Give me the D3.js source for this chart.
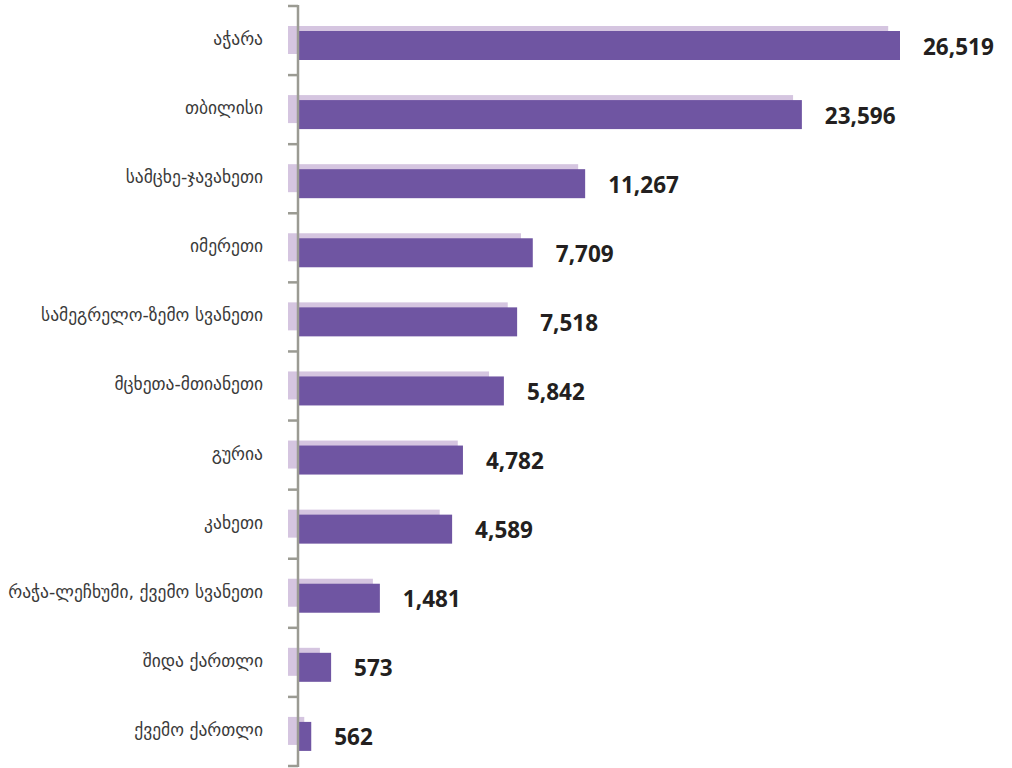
<!DOCTYPE html>
<html><head><meta charset="utf-8">
<script src="https://cdn.jsdelivr.net/npm/d3@7/dist/d3.min.js"></script>
<style>body{margin:0;background:#fff}svg{display:block}</style>
</head><body>
<svg id="chart" width="1012" height="768"></svg>
<script>
const categories = ["აჭარა","თბილისი","სამცხე-ჯავახეთი","იმერეთი","სამეგრელო-ზემო სვანეთი","მცხეთა-მთიანეთი","გურია","კახეთი","რაჭა-ლეჩხუმი, ქვემო სვანეთი","შიდა ქართლი","ქვემო ქართლი"];
const valueLabels = [26519,23596,11267,7709,7518,5842,4782,4589,1481,573,562];
// bar lengths (relative, % of longest bar)
const barValues = [100,83.7,47.7,39.0,36.4,34.2,27.4,25.6,13.6,5.5,2.2];
const shadowValues = [99.7,83.9,48.2,38.7,36.5,33.4,28.2,25.2,14.1,5.3,2.7];

const svg = d3.select("#chart");
const x0 = 298;
const x = d3.scaleLinear().domain([0,100]).range([0,602]);
const y = d3.scaleBand().domain(categories).range([6,766]).paddingInner(0).paddingOuter(0);
const step = y.step();

// shadow bars
svg.append("g").selectAll("rect").data(categories).join("rect")
  .attr("x", x0-10).attr("y", d=>y(d)+20)
  .attr("width", (d,i)=>x(shadowValues[i])).attr("height", 28)
  .attr("fill", "#d5c5e0");

// main bars
svg.append("g").selectAll("rect").data(categories).join("rect")
  .attr("x", x0).attr("y", d=>y(d)+25)
  .attr("width", (d,i)=>x(barValues[i])).attr("height", 29)
  .attr("fill", "#6f55a2");

// axis
const axisColor = "#9b9b93";
const boundaries = d3.range(categories.length+1).map(i=>6+i*step);
const ag = svg.append("g");
ag.append("line").attr("x1",x0).attr("x2",x0).attr("y1",5).attr("y2",767)
  .attr("stroke",axisColor).attr("stroke-width",2.5);
ag.selectAll("line.tick").data(boundaries).join("line").attr("class","tick")
  .attr("x1",288).attr("x2",x0).attr("y1",d=>d).attr("y2",d=>d)
  .attr("stroke",axisColor).attr("stroke-width",2.5);

// category labels
svg.append("g").selectAll("text").data(categories).join("text")
  .attr("x", 263).attr("y", d=>y(d)+33)
  .attr("text-anchor","end").attr("dominant-baseline","central")
  .attr("font-family","DejaVu Sans, sans-serif").attr("font-size",17.5)
  .attr("fill","#3a3a3a").text(d=>d);

// value labels
const fmt = d3.format(",");
svg.append("g").selectAll("text").data(categories).join("text")
  .attr("x", (d,i)=>x0 + x(barValues[i]) + 23).attr("y", d=>y(d)+40)
  .attr("dominant-baseline","central")
  .attr("font-family","Open Sans, sans-serif").attr("font-weight","bold").attr("font-size",22.5)
  .attr("fill","#231f20").text((d,i)=>fmt(valueLabels[i]));
</script>
</body></html>
